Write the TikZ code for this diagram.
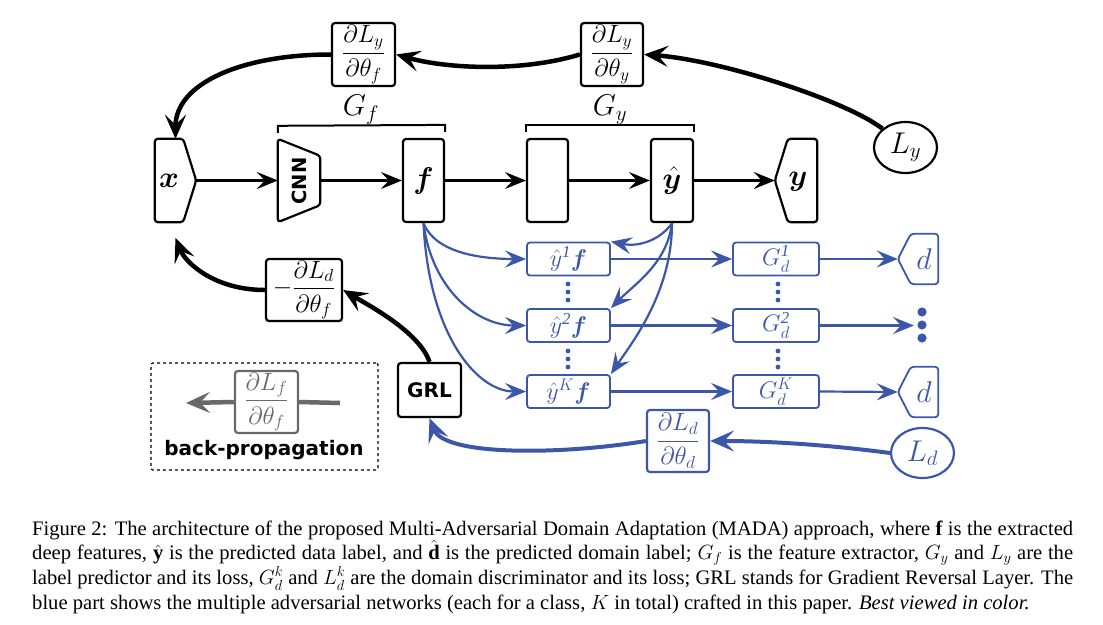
\RequirePackage{fix-cm}
\documentclass[tikz,border=0pt]{standalone}
\usepackage{amsmath,bm}
\usepackage{fontspec}
\setmainfont{Liberation Serif}
\newfontfamily\hvfont{DejaVu Sans}
\usetikzlibrary{arrows.meta,shapes.geometric,calc}
\definecolor{mblue}{RGB}{61,87,168}
\definecolor{mgray}{RGB}{105,105,105}
\newcommand\bigsym{\fontsize{30}{35}\selectfont}
\newcommand\fracsz{\fontsize{25}{30}\selectfont}
\newcommand\bluesz{\fontsize{24}{28}\selectfont}
\newcommand\capsz{\fontsize{20.6}{24.7}\selectfont}
\tikzset{
  blk/.style={draw, line width=2.2pt, rounded corners=3pt, inner sep=0pt},
  ghost/.style={inner sep=0pt},
  bbox/.style={draw=mblue, text=mblue, line width=1.8pt, rounded corners=3pt, inner sep=0pt, minimum height=33pt},
  farrow/.style={line width=2.2pt, -{Stealth[length=21pt,width=17pt,inset=8pt]}},
  tarrow/.style={line width=4.5pt, -{Stealth[length=24pt,width=21pt,inset=10pt]}},
  barrow/.style={farrow, draw=mblue, color=mblue},
  btarrow/.style={tarrow, draw=mblue, color=mblue, line width=4pt},
  outline/.style={line width=2.2pt, rounded corners=3pt},
  boutline/.style={line width=1.8pt, rounded corners=3pt, draw=mblue},
  brack/.style={line width=2pt},
}
\begin{document}
\begin{tikzpicture}[x=1pt,y=-1pt]
\useasboundingbox (0,0) rectangle (1103,624);

% ---- main row ----
\node[ghost, minimum width=41pt, minimum height=83pt] (xin) at (175.5,180.5) {};
\draw[outline] (xin.north west) -- ($(xin.north east)+(-13,0)$) -- (xin.east) -- ($(xin.south east)+(-13,0)$) -- (xin.south west) -- cycle;
\node (xlab) at (169,181) {\bigsym$\boldsymbol{x}$};

\node[ghost, minimum width=42pt, minimum height=83pt] (cnn) at (299,180.5) {};
\draw[outline] (cnn.north west) -- ($(cnn.north east)+(0,17)$) -- ($(cnn.south east)+(0,-17)$) -- (cnn.south west) -- cycle;
\node[rotate=90] (cnnlab) at (299,181) {\fontsize{19.5}{23}\selectfont\hvfont\bfseries CNN};

\node[blk, minimum width=41pt, minimum height=83pt] (f) at (423.5,180.5) {\bigsym$\boldsymbol{f}$};
\node[blk, minimum width=41pt, minimum height=83pt] (g) at (547.5,180.5) {};
\node[blk, minimum width=42pt, minimum height=83pt] (yh) at (672,180.5) {\bigsym$\hat{\boldsymbol{y}}$};

\node[ghost, minimum width=42pt, minimum height=83pt] (yout) at (796,180.5) {};
\draw[outline] (yout.north east) -- ($(yout.north west)+(13,0)$) -- (yout.west) -- ($(yout.south west)+(13,0)$) -- (yout.south east) -- cycle;
\node (ylab) at (798,182) {\bigsym$\boldsymbol{y}$};

\draw[farrow] (xin.east) -- (cnn.west);
\draw[farrow] (cnn.east) -- (f.west);
\draw[farrow] (f.east) -- (g.west);
\draw[farrow] (g.east) -- (yh.west);
\draw[farrow] (yh.east) -- (yout.west);

% brackets
\draw[brack] ($(cnn.north west)+(0,-6)$) -- ($(cnn.north west)+(0,-13)$) -- ($(f.north east)+(0,-13)$) -- ($(f.north east)+(0,-6)$);
\node (Gf) at (361,110) {\bigsym$G_f$};
\draw[brack] ($(g.north west)+(0,-6)$) -- ($(g.north west)+(0,-13)$) -- ($(yh.north east)+(0,-13)$) -- ($(yh.north east)+(0,-6)$);
\node (Gy) at (610,110) {\bigsym$G_y$};

% ---- top gradients ----
\node[blk, minimum width=63pt, minimum height=63pt] (dLyf) at (363.5,54.5) {\fracsz$\dfrac{\partial L_y}{\partial \theta_f}$};
\node[blk, minimum width=62pt, minimum height=63pt] (dLyy) at (612,54.5) {\fracsz$\dfrac{\partial L_y}{\partial \theta_y}$};
\node[ellipse, draw, line width=2.2pt, minimum width=63pt, minimum height=51pt, inner sep=0pt] (Ly) at (905.5,147.5) {\bigsym$L_y$};

\draw[tarrow] (Ly.north west) .. controls (845,100) and (720,60) .. (dLyy.east);
\draw[tarrow] (dLyy.west) .. controls +(-60,18) and +(50,14) .. (dLyf.east);
\draw[tarrow] (dLyf.west) .. controls +(-90,0) and +(0,-55) .. (xin.north);

% ---- blue part ----
\node[bbox, minimum width=83pt] (yf1) at (568.5,259) {\bluesz$\hat{y}^{\mathit{1}}\boldsymbol{f}$};
\node[bbox, minimum width=83pt] (yf2) at (568.5,325.5) {\bluesz$\hat{y}^{\mathit{2}}\boldsymbol{f}$};
\node[bbox, minimum width=83pt] (yfK) at (568.5,391.5) {\bluesz$\hat{y}^{K}\boldsymbol{f}$};
\node[bbox, minimum width=86pt] (Gd1) at (776,259) {\bluesz$G_d^{\mathit{1}}$};
\node[bbox, minimum width=86pt] (Gd2) at (776,325.5) {\bluesz$G_d^{\mathit{2}}$};
\node[bbox, minimum width=86pt] (GdK) at (776,391.5) {\bluesz$G_d^K$};

\node[ghost, minimum width=40pt, minimum height=50pt] (d1) at (918,259) {};
\draw[boutline] (d1.north east) -- ($(d1.north west)+(13,0)$) -- (d1.west) -- ($(d1.south west)+(13,0)$) -- (d1.south east) -- cycle;
\node[text=mblue] (d1lab) at (924,259) {\bigsym$d$};
\node[ghost, minimum width=40pt, minimum height=50pt] (dK) at (918,392) {};
\draw[boutline] (dK.north east) -- ($(dK.north west)+(13,0)$) -- (dK.west) -- ($(dK.south west)+(13,0)$) -- (dK.south east) -- cycle;
\node[text=mblue] (dKlab) at (924,392) {\bigsym$d$};

\foreach \yy in {284,292,300,351,359,367} {
  \fill[mblue] (568,\yy) circle (2.4pt);
  \fill[mblue] (778,\yy) circle (2.4pt);
}
\foreach \yy in {312,325,338} \fill[mblue] (922,\yy) circle (4.6pt);
\coordinate (dotsend) at (914,325.5);

\draw[barrow] (yf1.east) -- (Gd1.west);
\draw[barrow] (yf2.east) -- (Gd2.west);
\draw[barrow] (yfK.east) -- (GdK.west);
\draw[barrow] (Gd1.east) -- (d1.west);
\draw[barrow] (Gd2.east) -- (dotsend);
\draw[barrow] (GdK.east) -- (dK.west);

\draw[barrow] (f.south) .. controls +(12,30) and +(-45,0) .. (yf1.west);
\draw[barrow] (f.south) .. controls +(8,65) and +(-50,0) .. (yf2.west);
\draw[barrow] (f.south) .. controls +(5,110) and +(-50,0) .. (yfK.west);

\draw[barrow] (yh.south) .. controls +(-10,15) and +(30,6) .. (yf1.north east);
\draw[barrow] (yh.south) .. controls +(-5,40) and +(25,-25) .. (yf2.north east);
\draw[barrow] (yh.south) .. controls +(0,70) and +(20,-30) .. (yfK.north east);

\node[bbox, minimum width=62pt, minimum height=62pt, line width=2.2pt] (dLdd) at (678,441) {\fracsz$\dfrac{\partial L_d}{\partial \theta_d}$};
\node[ellipse, draw=mblue, text=mblue, line width=2.2pt, minimum width=63pt, minimum height=50pt, inner sep=0pt] (Ld) at (922.5,453) {\bigsym$L_d$};

\node[blk, minimum width=63pt, minimum height=54pt] (GRL) at (429.5,390) {\fontsize{20}{24}\selectfont\hvfont\bfseries GRL};
\node[blk, minimum width=76pt, minimum height=62pt] (dLdf) at (304,290) {\fracsz$-\dfrac{\partial L_d}{\partial \theta_f}$};
\coordinate (xback) at (175.5,238);

\draw[btarrow] (Ld.west) .. controls +(-60,-8) and +(60,0) .. (dLdd.east);
\draw[btarrow] (dLdd.west) .. controls +(-85,14) and +(15,38) .. (GRL.south);
\draw[tarrow] (GRL.north) .. controls +(-10,-30) and +(25,15) .. (dLdf.east);
\draw[tarrow] (dLdf.west) .. controls +(-50,0) and +(10,25) .. (xback);

% ---- legend ----
\node[draw, dashed, line width=1.2pt, rounded corners=2pt, minimum width=227pt, minimum height=107pt, inner sep=0pt] (legend) at (264.5,416.5) {};
\node[draw=mgray, text=mgray, line width=2.2pt, rounded corners=3pt, inner sep=0pt, minimum width=63pt, minimum height=62pt] (glf) at (266.5,402) {\fracsz$\dfrac{\partial L_f}{\partial \theta_f}$};
\coordinate (gend) at (340,403);
\coordinate (gtip) at (186,403);
\draw[mgray, line width=4.5pt] (glf.east) -- (gend);
\draw[tarrow, mgray] (glf.west) -- (gtip);
\node (bplab) at (264,450) {\fontsize{20}{24}\selectfont\hvfont\bfseries back-propagation};

% ---- caption ----
\node[anchor=base west, inner sep=0pt] (cap1) at (32,535) {\capsz\hbox to 1041pt{Figure 2: The architecture of the proposed Multi-Adversarial Domain Adaptation (MADA) approach, where $\mathbf{f}$ is the extracted}};
\node[anchor=base west, inner sep=0pt] (cap2) at (32,559.7) {\capsz\hbox to 1041pt{deep features, $\hat{\mathbf{y}}$ is the predicted data label, and $\hat{\mathbf{d}}$ is the predicted domain label; $G_f$ is the feature extractor, $G_y$ and $L_y$ are the}};
\node[anchor=base west, inner sep=0pt] (cap3) at (32,584.4) {\capsz\hbox to 1041pt{label predictor and its loss, $G_d^k$ and $L_d^k$ are the domain discriminator and its loss; GRL stands for Gradient Reversal Layer. The}};
\node[anchor=base west, inner sep=0pt] (cap4) at (32,609.1) {\capsz blue part shows the multiple adversarial networks (each for a class, $K$ in total) crafted in this paper. \textit{Best viewed in color.}};
\end{tikzpicture}
\end{document}
